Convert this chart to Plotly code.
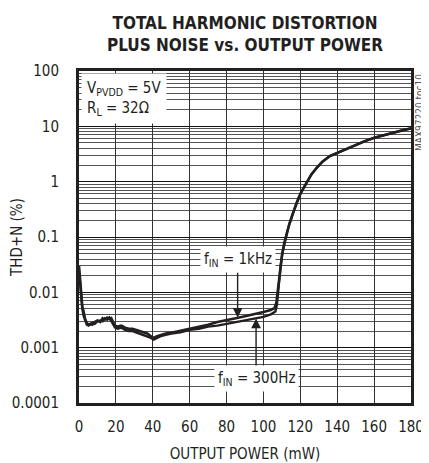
import numpy as np
import plotly.graph_objects as go

# ---------------- data ----------------
power_1k = [0, 0.6, 1.2, 1.8, 2.5, 3.3, 4.2, 5.2, 6.2, 7.2, 8.5, 10, 11.5, 12.8, 14,
            15.3, 16.5, 17.5, 18.5, 19.5, 21, 23, 25, 27, 29, 31, 33, 35, 37, 39,
            40.5, 42, 44, 47, 50, 55, 60, 65, 70, 75, 80, 85, 90, 95, 100, 104,
            106, 107, 107.5, 108, 108.6, 109.3, 110.2, 111.2, 112.5, 114, 116,
            118, 120, 122, 124, 126, 129, 132, 136, 140, 145, 150, 155, 160, 165,
            170, 175, 180]
thd_1k = [0.03, 0.015, 0.008, 0.0055, 0.0045, 0.0033, 0.0028, 0.0026, 0.0027,
          0.0026, 0.0029, 0.0031, 0.0029, 0.0034, 0.0032, 0.0035, 0.0033, 0.0034,
          0.0029, 0.0025, 0.0024, 0.0025, 0.0023, 0.0022, 0.0022, 0.0021, 0.0020,
          0.0019, 0.0018, 0.0016, 0.0015, 0.0016, 0.0017, 0.0018, 0.00185,
          0.0020, 0.0022, 0.0024, 0.0026, 0.0029, 0.0031, 0.0034, 0.0037, 0.0040,
          0.0044, 0.0048, 0.0052, 0.0065, 0.009, 0.013, 0.02, 0.03, 0.05, 0.075,
          0.11, 0.17, 0.27, 0.42, 0.6, 0.8, 1.05, 1.35, 1.8, 2.3, 2.9, 3.3, 4.0,
          4.7, 5.4, 6.2, 6.9, 7.6, 8.4, 9.2]

power_300 = [0, 0.6, 1.2, 1.8, 2.5, 3.3, 4.2, 5.2, 6.2, 7.2, 8.5, 10, 11.5, 12.8,
             14, 15.3, 16.5, 17.5, 18.5, 19.5, 21, 23, 25, 27, 29, 31, 33, 35, 37,
             39, 40.5, 42, 44, 47, 50, 55, 60, 65, 70, 75, 80, 85, 90, 95, 100,
             104, 106.5, 107.3, 108, 108.6, 109.3, 110.2, 111.2, 112.5, 114, 116,
             118, 120, 122, 124, 126, 129, 132, 136, 140, 145, 150, 155, 160, 165,
             170, 175, 180]
thd_300 = [0.025, 0.013, 0.007, 0.005, 0.0038, 0.003, 0.0026, 0.0025, 0.0027,
           0.0028, 0.0027, 0.0030, 0.0031, 0.0030, 0.0034, 0.0032, 0.0035, 0.0031,
           0.0027, 0.0023, 0.0022, 0.0023, 0.0021, 0.0020, 0.0020, 0.0019, 0.0018,
           0.0017, 0.0016, 0.0015, 0.0014, 0.0015, 0.0016, 0.0017, 0.0018, 0.0019,
           0.0021, 0.0022, 0.0024, 0.0025, 0.0027, 0.0029, 0.0031, 0.0033, 0.0036,
           0.0040, 0.0045, 0.006, 0.012, 0.02, 0.03, 0.05, 0.075, 0.11, 0.17,
           0.27, 0.42, 0.6, 0.8, 1.05, 1.35, 1.8, 2.3, 2.9, 3.3, 4.0, 4.7, 5.4,
           6.2, 6.9, 7.6, 8.4, 9.2]

x_ticks = [0, 20, 40, 60, 80, 100, 120, 140, 160, 180]
y_ticks = [0.0001, 0.001, 0.01, 0.1, 1, 10, 100]
y_tick_labels = ["0.0001", "0.001", "0.01", "0.1", "1", "10", "100"]

arrow_1k_power = 86
arrow_300_power = 96

# ---------------- figure ----------------
FONT = "DejaVu Sans Condensed, Liberation Sans Narrow, Arial Narrow, sans-serif"
INK = "#231f20"
W, H = 421, 455   # page body has an 8px default margin

minor_vals = [d * 10.0 ** e for e in range(-4, 2) for d in range(2, 10)]

fig = go.Figure()
fig.add_trace(go.Scatter(x=power_300, y=thd_300, mode="lines",
                         line=dict(color=INK, width=2.4), hoverinfo="skip"))
fig.add_trace(go.Scatter(x=power_1k, y=thd_1k, mode="lines",
                         line=dict(color=INK, width=2.6), hoverinfo="skip"))

fig.update_layout(
    width=W, height=H,
    margin=dict(l=71, r=18, t=63, b=60, autoexpand=False),
    paper_bgcolor="white", plot_bgcolor="white",
    showlegend=False,
    font=dict(family=FONT, color=INK, size=15),
    title=dict(
        text="<b>TOTAL HARMONIC DISTORTION<br>PLUS NOISE vs. OUTPUT POWER</b>",
        xref="paper", x=0.5, xanchor="center",
        yref="container", y=1 - 21 / H, yanchor="middle",
        font=dict(family=FONT, size=17, color=INK),
    ),
)

fig.update_xaxes(
    range=[0, 180], tickvals=x_ticks, ticks="", automargin=False,
    ticklabelstandoff=8,
    showgrid=True, gridcolor="#333333", gridwidth=1,
    showline=True, linewidth=3, linecolor=INK, mirror=True,
    zeroline=False, tickfont=dict(size=15),
    title=dict(text="OUTPUT POWER (mW)", font=dict(size=15), standoff=17),
)
fig.update_yaxes(
    type="log", range=[-4, 2], tickvals=y_ticks, ticktext=y_tick_labels,
    ticks="", ticklabelstandoff=14, automargin=False,
    showgrid=True, gridcolor="#111111", gridwidth=1.4,
    minor=dict(tickvals=minor_vals, showgrid=True, gridcolor="#555555",
               gridwidth=1, ticks=""),
    showline=True, linewidth=3, linecolor=INK, mirror=True,
    zeroline=False, tickfont=dict(size=15),
    title=dict(text="THD+N (%)", font=dict(size=15), standoff=2),
)

# conditions box
fig.add_annotation(
    xref="paper", yref="paper", x=0, y=1, xanchor="left", yanchor="top",
    xshift=2, yshift=-2, showarrow=False, align="left",
    text="V<sub>PVDD</sub> = 5V<br>R<sub>L</sub> = 32\u03a9",
    font=dict(size=15), bgcolor="white", borderpad=5,
)

# arrow annotations pointing at the curves
y1k = float(np.interp(arrow_1k_power, power_1k, thd_1k))
y300 = float(np.interp(arrow_300_power, power_300, thd_300))
fig.add_annotation(
    x=arrow_1k_power, y=np.log10(y1k), ax=0, ay=-58,
    text="f<sub>IN</sub> = 1kHz", showarrow=True, arrowhead=2,
    arrowsize=1.4, arrowwidth=1.4, arrowcolor=INK,
    bgcolor="white", borderpad=3, font=dict(size=15),
)
fig.add_annotation(
    x=arrow_300_power, y=np.log10(y300), ax=0, ay=60,
    text="f<sub>IN</sub> = 300Hz", showarrow=True, arrowhead=2,
    arrowsize=1.4, arrowwidth=1.4, arrowcolor=INK,
    bgcolor="white", borderpad=3, font=dict(size=15),
)

# figure id at the right edge
fig.add_annotation(
    xref="paper", yref="paper", x=1, y=1, xanchor="left", yanchor="top",
    xshift=1, yshift=-1, showarrow=False, textangle=-90,
    text="MAX97220 toc10", font=dict(size=10, color="#555555"),
)

fig.write_html("out.html")
